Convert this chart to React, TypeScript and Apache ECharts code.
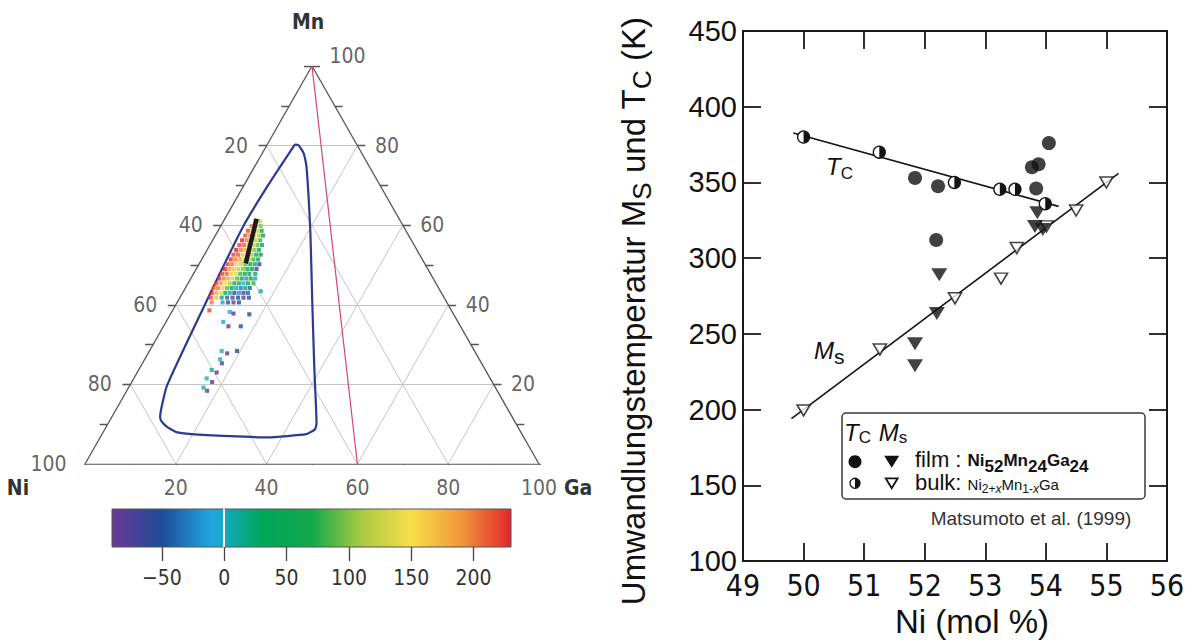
import React, { useEffect, useRef } from "react";
import * as echarts from "echarts";

const NARROW = "'Liberation Sans Narrow', 'DejaVu Sans Condensed', 'Liberation Sans', sans-serif";
const ARIAL = "'Liberation Sans', Arial, Helvetica, sans-serif";

// ---------------- Left: ternary Ni–Mn–Ga diagram (at.%) ----------------
const TERN_GRID_VALUES = [20, 40, 60, 80];
const TERN_TICK_VALUES = [0, 10, 20, 30, 40, 50, 60, 70, 80, 90, 100];
const NI_LABELS = [20, 40, 60, 80, 100]; // left edge
const MN_LABELS = [20, 40, 60, 80, 100]; // right edge
const GA_LABELS = [20, 40, 60, 80, 100]; // bottom edge

// Blue boundary curve: [Mn, Ga]  (Ni = 100 - Mn - Ga)
const BOUNDARY = [
  [80.3, 6.1], [80.0, 7.1], [78.0, 9.2], [74.6, 11.5], [57.9, 20.7], [41.1, 29.5],
  [24.4, 38.3], [10.2, 45.9], [8.7, 46.3], [7.5, 45.0], [6.7, 37.0], [7.0, 28.4],
  [7.5, 19.7], [8.0, 16.1], [9.4, 13.3], [10.9, 11.3], [11.9, 10.6], [19.8, 8.2],
  [41.1, 6.3], [59.5, 5.0], [70.0, 5.3], [80.3, 6.1],
];
// Magenta line: [Mn, Ga]
const MAGENTA = [[100, 0], [0, 60]];
// Thick black line: [Mn, Ga]
const BLACK_LINE = [[61.6, 7.0], [50.4, 10.2]];
// Samples: [Mn, Ga, value]
const SAMPLES = [
  [61.0, 7.0, 180], [61.0, 8.0, 120],
  [59.8, 6.8, 200], [59.8, 7.8, 150], [59.8, 8.8, 100],
  [58.6, 6.6, 220], [58.6, 7.6, 170], [58.6, 8.6, 130], [58.6, 9.6, 70],
  [57.4, 6.6, 215], [57.4, 7.6, 190], [57.4, 8.6, 150], [57.4, 9.6, 110], [57.4, 10.5, 60],
  [56.2, 6.5, 230], [56.2, 7.5, 200], [56.2, 8.5, 160], [56.2, 9.5, 120], [56.2, 10.5, 80],
  [55.0, 6.5, 220], [55.0, 7.5, 210], [55.0, 8.5, 170], [55.0, 9.5, 130], [55.0, 10.5, 90], [55.0, 11.5, 40],
  [53.8, 6.4, 230], [53.8, 7.4, 200], [53.8, 8.4, 180], [53.8, 9.4, 140], [53.8, 10.4, 100], [53.8, 11.4, 60],
  [52.6, 6.4, 220], [52.6, 7.4, 210], [52.6, 8.4, 170], [52.6, 9.4, 150], [52.6, 10.4, 110], [52.6, 11.4, 70], [52.6, 12.4, 30],
  [51.4, 6.4, 230], [51.4, 7.4, 200], [51.4, 8.4, 180], [51.4, 9.4, 140], [51.4, 10.4, 120], [51.4, 11.4, 80], [51.4, 12.4, 50],
  [50.2, 6.3, 220], [50.2, 7.3, 200], [50.2, 8.3, 160], [50.2, 9.3, 130], [50.2, 10.3, 90], [50.2, 11.3, 60], [50.2, 12.3, 20], [50.2, 13.3, -60],
  [49.0, 6.3, 230], [49.0, 7.3, 190], [49.0, 8.3, 170], [49.0, 9.3, 120], [49.0, 10.3, 100], [49.0, 11.3, 70], [49.0, 12.3, 40], [49.0, 13.3, -80],
  [47.8, 6.3, 220], [47.8, 7.3, 210], [47.8, 8.3, 160], [47.8, 9.3, 140], [47.8, 10.3, 80], [47.8, 11.3, 60], [47.8, 12.3, 20], [47.8, 13.6, 50],
  [46.6, 6.2, 230], [46.6, 7.2, 200], [46.6, 8.2, 180], [46.6, 9.2, 130], [46.6, 10.2, 90], [46.6, 11.2, 40], [46.6, 12.2, 10], [46.6, 13.2, 70], [46.6, 14.2, 0],
  [45.4, 6.2, 220], [45.4, 7.2, 190], [45.4, 8.2, 150], [45.4, 9.2, 110], [45.4, 10.2, 70], [45.4, 11.2, 20], [45.4, 12.2, -10], [45.4, 13.2, 60], [45.4, 14.4, 80],
  [44.2, 6.2, 210], [44.2, 7.2, 200], [44.2, 8.2, 160], [44.2, 9.2, 90], [44.2, 10.2, 30], [44.2, 11.2, 0], [44.2, 12.2, -30], [44.2, 13.2, 20], [44.2, 14.2, -40],
  [43.0, 6.4, 230], [43.0, 7.4, 180], [43.0, 8.4, 140], [43.0, 9.4, 50], [43.0, 10.4, 10], [43.0, 11.4, -50], [43.0, 12.4, -20], [43.0, 13.4, -70], [43.0, 14.4, -40], [43.4, 17.0, 10],
  [41.8, 6.8, 220], [41.8, 8.0, 170], [41.8, 9.2, 20], [41.8, 10.4, -40], [41.8, 11.6, -70], [41.8, 12.8, -50], [41.8, 14.0, -80], [41.8, 15.2, -60],
  [40.6, 7.6, 200], [40.6, 10.0, 0], [40.6, 11.2, -60], [40.6, 12.4, -80], [40.6, 13.6, -50],
  [38.6, 8.1, 220], [38.2, 12.8, -5], [37.8, 13.8, -80], [37.6, 17.4, -50],
  [35.7, 12.6, -5], [34.6, 14.3, -80], [34.6, 17.0, -50],
  [28.4, 15.9, -5], [27.8, 17.4, -80], [28.4, 19.3, -50],
  [26.3, 16.6, -5], [25.3, 17.5, -80], [23.6, 16.1, 10], [23.0, 17.5, -80],
  [21.5, 16.05, -5], [20.6, 17.7, -80], [19.2, 16.5, 0], [18.4, 17.7, -80],
];

// Colour bar
const CB_MIN = -90;
const CB_MAX = 230;
const CB_TICKS = [-50, 0, 50, 100, 150, 200];
const CB_COLORS = ["#6b3896", "#1d4c98", "#1fa9e0", "#00a659", "#12a84c", "#a9ca41", "#f8df4b", "#f0973b", "#e3272d"];

// ---------------- Right: transformation temperatures ----------------
const X_MIN = 49, X_MAX = 56, X_STEP = 1;
const Y_MIN = 100, Y_MAX = 450, Y_STEP = 50;
// [Ni mol%, T in K]
const TC_BULK = [[50.0, 380], [51.25, 370], [52.49, 350], [53.24, 345.5], [53.49, 345.5], [53.99, 336]];
const TC_FILM = [[51.84, 353], [52.22, 347.5], [52.19, 312], [53.77, 360], [53.88, 362], [53.84, 346], [54.05, 376]];
const MS_FILM = [[52.24, 289], [52.2, 263.5], [51.84, 243.5], [51.84, 229], [53.86, 330], [53.82, 321], [53.95, 319]];
const MS_BULK = [[50.0, 199.5], [51.26, 239.7], [52.5, 273.5], [53.26, 286.5], [53.52, 306.7], [54.01, 321], [54.5, 331.5], [55.0, 350]];
const TC_FIT = [[49.83, 382.7], [54.21, 334.2]];
const MS_FIT = [[49.8, 194], [55.2, 356]];

// layout
const TG = { left: 85, top: 66, width: 454, height: 398 };
const CG = { left: 112, top: 509, width: 399, height: 38 };
const RG = { left: 743, top: 31, width: 424, height: 534 };

const tern = (mn: number, ga: number): number[] => [ga / 100 + mn / 200, mn / 100];
const dx = (p: number) => p / TG.width;
const dy = (p: number) => p / TG.height;
const seg = (a: number[], b: number[]) => ({ coords: [a, b] });

function buildOption() {
  const gridLines: any[] = [];
  TERN_GRID_VALUES.forEach((v) => {
    gridLines.push(seg(tern(v, 0), tern(v, 100 - v))); // Mn = v
    gridLines.push(seg(tern(100 - v, 0), tern(0, 100 - v))); // Ni = v
    gridLines.push(seg(tern(0, v), tern(100 - v, v))); // Ga = v
  });
  const frame: any[] = [
    seg(tern(0, 0), tern(0, 100)),
    seg(tern(0, 100), tern(100, 0)),
    seg(tern(100, 0), tern(0, 0)),
  ];
  TERN_TICK_VALUES.forEach((v) => {
    const l = tern(v, 0);
    frame.push(seg([l[0] - dx(8), l[1]], l));
    const r = tern(v, 100 - v);
    frame.push(seg(r, [r[0] + dx(8), r[1]]));
    const b = tern(0, v);
    frame.push(seg(b, [b[0], b[1] - dy(7)]));
  });

  const labelStyle = { fontSize: 21, fontFamily: NARROW, color: "#3a3a3a" };
  const labelSeries = (data: any[], position: string, distance: number) => ({
    type: "scatter",
    xAxisIndex: 0,
    yAxisIndex: 0,
    symbolSize: 1,
    itemStyle: { color: "rgba(0,0,0,0)" },
    silent: true,
    z: 6,
    data,
    label: { show: true, position, distance, formatter: "{b}", ...labelStyle },
  });

  const series: any[] = [];
  series.push({
    type: "lines", coordinateSystem: "cartesian2d", xAxisIndex: 0, yAxisIndex: 0, silent: true, z: 1,
    data: gridLines, lineStyle: { color: "#c4c4c4", width: 1, opacity: 1 },
  });
  series.push({
    type: "lines", coordinateSystem: "cartesian2d", xAxisIndex: 0, yAxisIndex: 0, silent: true, z: 2,
    data: frame, lineStyle: { color: "#555", width: 1.3, opacity: 1 },
  });
  series.push({
    type: "line", xAxisIndex: 0, yAxisIndex: 0, data: MAGENTA.map(([m, g]) => tern(m, g)),
    showSymbol: false, lineStyle: { color: "#d2457c", width: 1.2 }, z: 3, silent: true,
  });
  series.push({
    type: "line", xAxisIndex: 0, yAxisIndex: 0, data: BOUNDARY.map(([m, g]) => tern(m, g)),
    showSymbol: false, smooth: 0.15, lineStyle: { color: "#2c3b8f", width: 2.2 }, z: 3, silent: true,
  });
  const sampleIndex = series.length;
  series.push({
    type: "scatter", xAxisIndex: 0, yAxisIndex: 0,
    data: SAMPLES.map(([m, g, v]) => [...tern(m, g), v]),
    symbol: "rect", symbolSize: 4.1, z: 4, silent: true,
  });
  series.push({
    type: "line", xAxisIndex: 0, yAxisIndex: 0, data: BLACK_LINE.map(([m, g]) => tern(m, g)),
    showSymbol: false, lineStyle: { color: "#1e1a1a", width: 4.5 }, z: 5, silent: true,
  });
  series.push(labelSeries(NI_LABELS.map((n) => ({ name: String(n), value: tern(100 - n, 0) })), "left", 18));
  series.push(labelSeries(MN_LABELS.map((m) => ({
    name: String(m), value: tern(m, 100 - m),
    ...(m === 100 ? { label: { offset: [0, -10] } } : {}),
  })), "right", 17));
  series.push(labelSeries(GA_LABELS.map((g) => ({ name: String(g), value: tern(0, g) })), "bottom", 13));

  // colour bar zero marker
  series.push({
    type: "lines", coordinateSystem: "cartesian2d", xAxisIndex: 1, yAxisIndex: 1, silent: true, z: 3,
    data: [seg([0, 0], [0, 1])], lineStyle: { color: "#ffffff", width: 2, opacity: 1 },
  });

  // right plot
  series.push({
    type: "line", xAxisIndex: 2, yAxisIndex: 2, data: TC_FIT, showSymbol: false,
    lineStyle: { color: "#141414", width: 1.6 }, z: 2, silent: true,
  });
  series.push({
    type: "line", xAxisIndex: 2, yAxisIndex: 2, data: MS_FIT, showSymbol: false,
    lineStyle: { color: "#141414", width: 1.6 }, z: 2, silent: true,
  });
  series.push({
    type: "scatter", xAxisIndex: 2, yAxisIndex: 2, data: MS_BULK, symbol: "triangle", symbolRotate: 180,
    symbolSize: [13, 11], itemStyle: { color: "#fff", borderColor: "#141414", borderWidth: 1.6 }, z: 3, silent: true,
  });
  series.push({
    type: "scatter", xAxisIndex: 2, yAxisIndex: 2, data: MS_FILM, symbol: "triangle", symbolRotate: 180,
    symbolSize: [16, 13], itemStyle: { color: "#111" }, z: 4, silent: true,
  });
  series.push({
    type: "scatter", xAxisIndex: 2, yAxisIndex: 2, data: TC_FILM, symbol: "circle",
    symbolSize: 14, itemStyle: { color: "#111" }, z: 4, silent: true,
  });
  series.push({
    type: "custom", xAxisIndex: 2, yAxisIndex: 2, data: TC_BULK, z: 5, silent: true,
    encode: { x: 0, y: 1 },
    renderItem: (_params: any, api: any) => {
      const p = api.coord([api.value(0), api.value(1)]);
      const r = 6;
      return {
        type: "group",
        children: [
          { type: "circle", shape: { cx: p[0], cy: p[1], r }, style: { fill: "#fff", stroke: "#141414", lineWidth: 1.3 } },
          {
            type: "sector",
            shape: { cx: p[0], cy: p[1], r0: 0, r, startAngle: -Math.PI / 2, endAngle: Math.PI / 2, clockwise: true },
            style: { fill: "#141414" },
          },
        ],
      };
    },
  });

  const rightAxis = {
    axisLine: { show: true, onZero: false, lineStyle: { color: "#1a1a1a", width: 2 } },
    axisTick: { show: true, inside: true, length: 18, lineStyle: { color: "#1a1a1a", width: 1.8 } },
    splitLine: { show: false },
  };

  const txt = (x: number, y: number, text: string, extra: any = {}) => ({
    type: "text", x, y, z: 10, silent: true,
    style: { text, fill: "#111", fontFamily: ARIAL, fontSize: 20, align: "left", textAlign: "left", verticalAlign: "middle", textVerticalAlign: "middle", ...extra },
  });

  const graphic: any[] = [
    {
      type: "rect", z: 0, silent: true,
      shape: { x: CG.left, y: CG.top, width: CG.width, height: CG.height },
      style: {
        fill: new echarts.graphic.LinearGradient(0, 0, 1, 0,
          CB_COLORS.map((c, i) => ({ offset: i / (CB_COLORS.length - 1), color: c }))),
        stroke: "#555", lineWidth: 1,
      },
    },
    txt(308, 22, "Mn", { fontWeight: "bold", fontFamily: NARROW, fontSize: 21, fill: "#333", align: "center", textAlign: "center" }),
    txt(18, 488, "Ni", { fontWeight: "bold", fontFamily: NARROW, fontSize: 21, fill: "#333", align: "center", textAlign: "center" }),
    txt(578, 488, "Ga", { fontWeight: "bold", fontFamily: NARROW, fontSize: 21, fill: "#333", align: "center", textAlign: "center" }),
    // annotations
    txt(826, 166, "{i|T}{s|C}", {
      rich: {
        i: { fontSize: 24, fontStyle: "italic", fontFamily: ARIAL, lineHeight: 32, fill: "#111" },
        s: { fontSize: 17, fontFamily: ARIAL, verticalAlign: "bottom", height: 16.6, fill: "#111" },
      },
    }),
    txt(814, 350, "{i|M}{s|s}", {
      rich: {
        i: { fontSize: 24, fontStyle: "italic", fontFamily: ARIAL, lineHeight: 32, fill: "#111" },
        s: { fontSize: 21, fontFamily: ARIAL, verticalAlign: "bottom", height: 20, fill: "#111" },
      },
    }),
    // legend box
    {
      type: "rect", z: 8, silent: true,
      shape: { x: 842, y: 413, width: 303, height: 86, r: 4 },
      style: { fill: "#fff", stroke: "#3a3a3a", lineWidth: 1.5 },
    },
    txt(844, 432, "{i|T}{s|C}{g|  }{i|M}{s|s}", {
      rich: {
        i: { fontSize: 24, fontStyle: "italic", fontFamily: ARIAL, lineHeight: 32, fill: "#111" },
        s: { fontSize: 17, fontFamily: ARIAL, verticalAlign: "bottom", height: 21, fill: "#111" },
        g: { fontSize: 14, fontFamily: ARIAL, lineHeight: 32 },
      },
    }),
    { type: "circle", z: 10, silent: true, shape: { cx: 855, cy: 461.7, r: 6.5 }, style: { fill: "#111" } },
    { type: "polygon", z: 10, silent: true, shape: { points: [[884.2, 455.7], [899.2, 455.7], [891.7, 467.7]] }, style: { fill: "#111" } },
    { type: "circle", z: 10, silent: true, shape: { cx: 855, cy: 483.3, r: 5 }, style: { fill: "#fff", stroke: "#141414", lineWidth: 1.3 } },
    { type: "sector", z: 11, silent: true, shape: { cx: 855, cy: 483.3, r0: 0, r: 5, startAngle: -Math.PI / 2, endAngle: Math.PI / 2, clockwise: true }, style: { fill: "#141414" } },
    { type: "polygon", z: 10, silent: true, shape: { points: [[885.7, 478.3], [897.7, 478.3], [891.7, 488.3]] }, style: { fill: "#fff", stroke: "#141414", lineWidth: 1.8 } },
    txt(915, 459, "{n|film : }{b|Ni}{bs|52}{b|Mn}{bs|24}{b|Ga}{bs|24}", {
      rich: {
        n: { fontSize: 22, fontFamily: ARIAL, lineHeight: 21, fill: "#111" },
        b: { fontSize: 17, fontWeight: "bold", fontFamily: ARIAL, verticalAlign: "bottom", height: 17.6, lineHeight: 21, fill: "#111" },
        bs: { fontSize: 17, fontWeight: "bold", fontFamily: ARIAL, verticalAlign: "bottom", height: 7, lineHeight: 21, fill: "#111" },
      },
    }),
    txt(915, 482, "{n|bulk: }{b|Ni}{s|2+}{si|x}{b|Mn}{s|1-}{si|x}{b|Ga}", {
      rich: {
        n: { fontSize: 22, fontFamily: ARIAL, lineHeight: 21, fill: "#111" },
        b: { fontSize: 15, fontFamily: ARIAL, verticalAlign: "bottom", height: 16.6, lineHeight: 21, fill: "#111" },
        s: { fontSize: 12, fontFamily: ARIAL, verticalAlign: "bottom", height: 8, lineHeight: 21, fill: "#111" },
        si: { fontSize: 12, fontStyle: "italic", fontFamily: ARIAL, verticalAlign: "bottom", height: 8, lineHeight: 21, fill: "#111" },
      },
    }),
    txt(1031, 518.5, "Matsumoto et al. (1999)", { fontSize: 19, fill: "#333", align: "center", textAlign: "center" }),
  ];

  return {
    animation: false,
    backgroundColor: "#ffffff",
    grid: [
      { left: TG.left, top: TG.top, width: TG.width, height: TG.height },
      { left: CG.left, top: CG.top, width: CG.width, height: CG.height },
      { left: RG.left, top: RG.top, width: RG.width, height: RG.height },
    ],
    xAxis: [
      { gridIndex: 0, type: "value", min: 0, max: 1, show: false },
      {
        gridIndex: 1, type: "value", min: CB_MIN, max: CB_MAX, position: "bottom",
        axisLine: { show: false }, splitLine: { show: false },
        axisTick: { show: true, customValues: CB_TICKS, length: 14, lineStyle: { color: "#444", width: 1.3 } },
        axisLabel: {
          customValues: CB_TICKS, margin: 20, fontSize: 21, fontFamily: NARROW, color: "#333",
          formatter: (v: number) => (v < 0 ? "\u2212" + Math.abs(v) : String(v)),
        },
      },
      {
        gridIndex: 2, type: "value", min: X_MIN, max: X_MAX, interval: X_STEP, position: "bottom", ...rightAxis,
        axisLabel: { fontSize: 30, fontFamily: NARROW, color: "#111", margin: 9 },
        name: "Ni (mol %)", nameLocation: "middle", nameGap: 43,
        nameTextStyle: { fontSize: 33, fontFamily: ARIAL, color: "#111", padding: [0, 0, 0, 34] },
      },
      {
        gridIndex: 2, type: "value", min: X_MIN, max: X_MAX, interval: X_STEP, position: "top", ...rightAxis,
        axisLabel: { show: false },
      },
    ],
    yAxis: [
      { gridIndex: 0, type: "value", min: 0, max: 1, show: false },
      { gridIndex: 1, type: "value", min: 0, max: 1, show: false },
      {
        gridIndex: 2, type: "value", min: Y_MIN, max: Y_MAX, interval: Y_STEP, position: "left", ...rightAxis,
        axisLabel: { fontSize: 29, fontFamily: ARIAL, color: "#111", margin: 6 },
        name: "{a|Umwandlungstemperatur M}{b|S}{a| und T}{b|C}{a| (K)}",
        nameLocation: "middle", nameGap: 88,
        nameTextStyle: {
          padding: [0, 30, 0, 0],
          rich: {
            a: { fontSize: 33, fontFamily: ARIAL, color: "#111", lineHeight: 44 },
            b: { fontSize: 26, fontFamily: ARIAL, color: "#111", verticalAlign: "bottom", height: 26 },
          },
        },
      },
      {
        gridIndex: 2, type: "value", min: Y_MIN, max: Y_MAX, interval: Y_STEP, position: "right", ...rightAxis,
        axisLabel: { show: false },
      },
    ],
    visualMap: {
      type: "continuous", show: false, seriesIndex: sampleIndex, dimension: 2,
      min: CB_MIN, max: CB_MAX, inRange: { color: CB_COLORS },
    },
    graphic,
    series,
  };
}

export default function App() {
  const ref = useRef<HTMLDivElement>(null);
  useEffect(() => {
    if (!ref.current) return;
    const chart = echarts.init(ref.current, undefined, { renderer: "svg" });
    chart.setOption(buildOption() as any);
    return () => chart.dispose();
  }, []);
  return (
    <div
      ref={ref}
      style={{ position: "fixed", left: 0, top: 0, width: 1196, height: 643, background: "#fff" }}
    />
  );
}
